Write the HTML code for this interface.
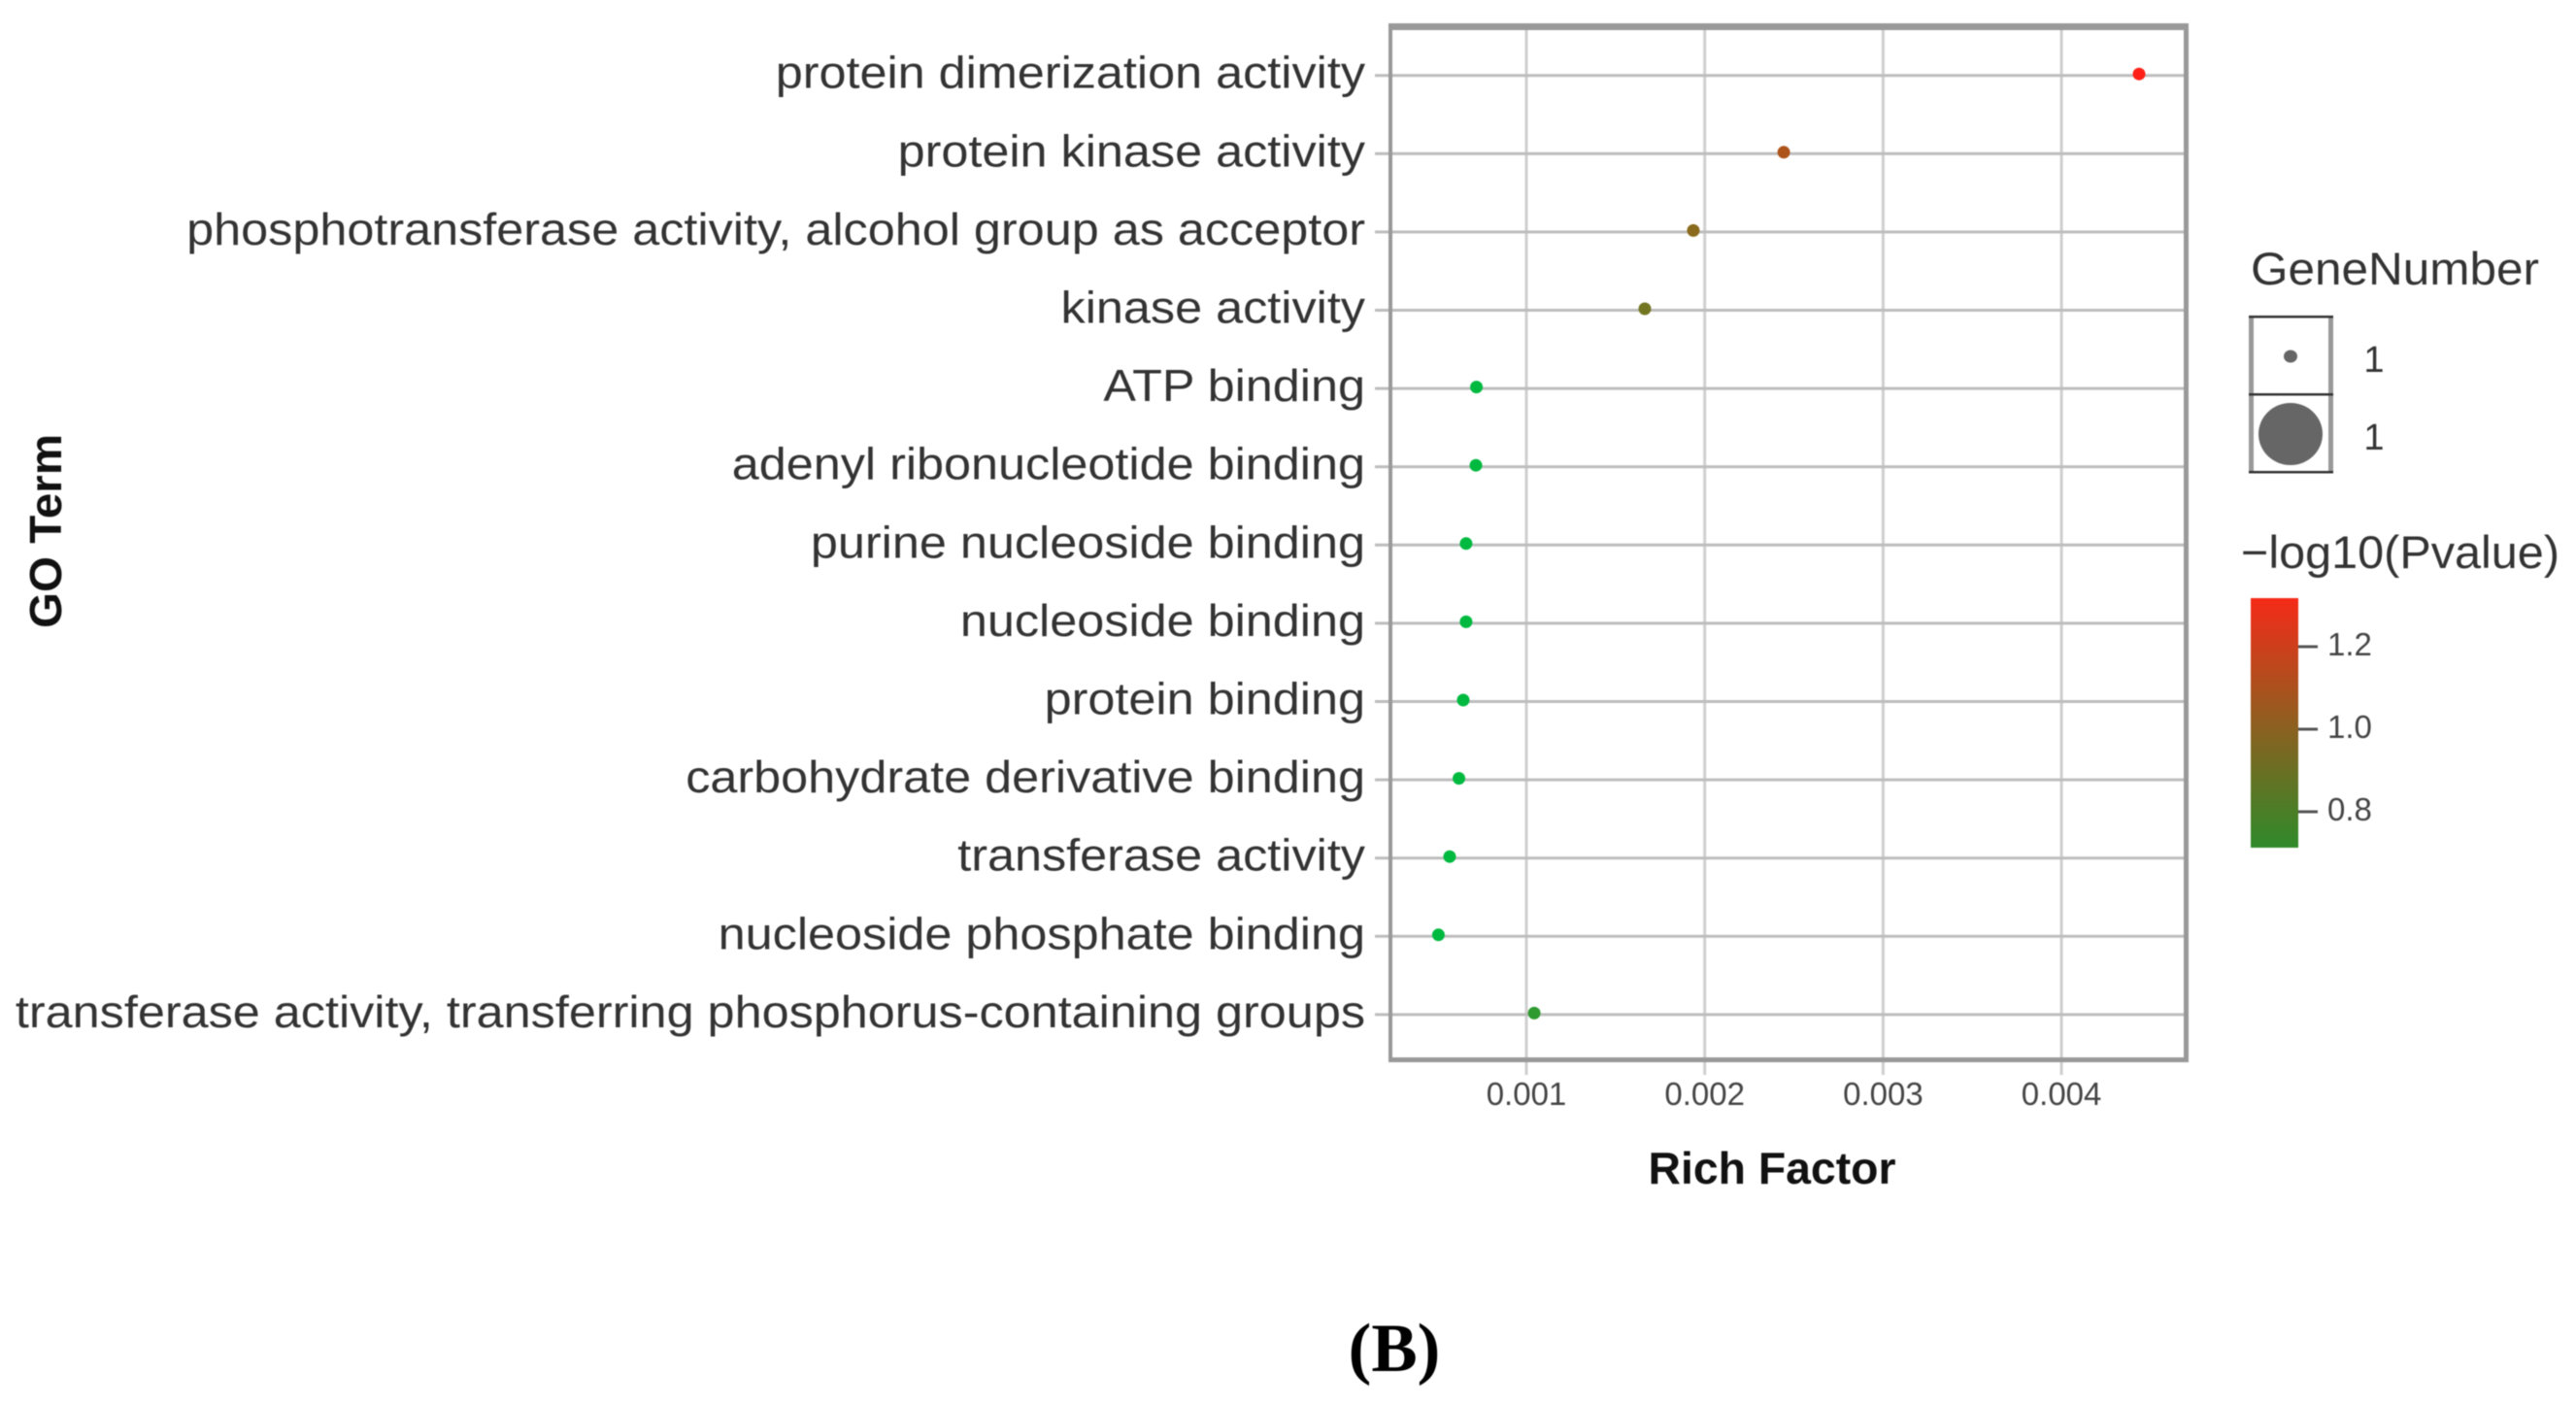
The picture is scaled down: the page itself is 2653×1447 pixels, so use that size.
<!DOCTYPE html>
<html lang="en">
<head>
<meta charset="utf-8">
<title>GO Term Rich Factor Bubble Chart</title>
<style>
html,body{margin:0;padding:0;background:#fff;width:2653px;height:1447px;overflow:hidden}
svg{display:block;filter:blur(0.6px)}
text{font-family:"Liberation Sans",sans-serif;fill:#333}
</style>
</head>
<body>
<svg id="chart" xmlns="http://www.w3.org/2000/svg" width="2653" height="1447" viewBox="0 0 2653 1447">
  <defs>
    <linearGradient id="pvalue-gradient" x1="0" y1="0" x2="0" y2="1">
      <stop offset="0" stop-color="#f52b18"/>
      <stop offset="0.5" stop-color="#8f5f20"/>
      <stop offset="1" stop-color="#2f8a2a"/>
    </linearGradient>
  </defs>
  <g id="grid"></g>
  <g id="panel">
    <rect x="1431" y="24" width="823" height="7" fill="#999"/>
    <rect x="1431" y="1089" width="823" height="5" fill="#999"/>
    <rect x="1430" y="24" width="4" height="1070" fill="#999"/>
    <rect x="2249" y="24" width="5" height="1070" fill="#999"/>
  </g>
  <g id="y-labels" transform="translate(1406,0) scale(1.095,1) translate(-1406,0)"></g>
  <g id="x-labels"></g>
  <g id="points"></g>

  <text x="1825" y="1219" text-anchor="middle" font-size="46" font-weight="700" textLength="255" lengthAdjust="spacingAndGlyphs" style="fill:#111">Rich Factor</text>
  <text transform="translate(63,647) rotate(-90)" font-size="46" font-weight="700" textLength="200" lengthAdjust="spacingAndGlyphs" style="fill:#111">GO Term</text>

  <g>
    <text x="2318" y="293" font-size="47" textLength="297" lengthAdjust="spacingAndGlyphs">GeneNumber</text>
    <rect x="2318" y="327" width="84" height="79" fill="#fff"/>
    <rect x="2318" y="406" width="84" height="80" fill="#fff"/>
    <rect x="2316" y="325" width="5" height="162" fill="#999"/>
    <rect x="2398" y="325" width="5" height="162" fill="#999"/>
    <rect x="2316" y="325" width="87" height="2.5" fill="#333"/>
    <rect x="2316" y="405" width="87" height="2.5" fill="#333"/>
    <rect x="2316" y="485" width="87" height="2.5" fill="#333"/>
    <ellipse cx="2359" cy="367" rx="7" ry="6.5" fill="#666"/>
    <ellipse cx="2359" cy="447" rx="33" ry="32" fill="#666"/>
    <text x="2445" y="383" font-size="38" text-anchor="middle">1</text>
    <text x="2445" y="463" font-size="38" text-anchor="middle">1</text>
  </g>

  <g>
    <text x="2308" y="585" font-size="47" textLength="328" lengthAdjust="spacingAndGlyphs">−log10(Pvalue)</text>
    <rect x="2318" y="616" width="49" height="257" fill="url(#pvalue-gradient)"/>
    <g id="color-ticks"></g>
  </g>

  <text x="1436" y="1412" text-anchor="middle" font-size="71" font-weight="700" style='font-family:"Liberation Serif",serif;fill:#000'>(B)</text>
</svg>

<script>
const categories = [
  "protein dimerization activity",
  "protein kinase activity",
  "phosphotransferase activity, alcohol group as acceptor",
  "kinase activity",
  "ATP binding",
  "adenyl ribonucleotide binding",
  "purine nucleoside binding",
  "nucleoside binding",
  "protein binding",
  "carbohydrate derivative binding",
  "transferase activity",
  "nucleoside phosphate binding",
  "transferase activity, transferring phosphorus-containing groups"
];
const richFactor = [0.004435, 0.002443, 0.001936, 0.001664, 0.00072, 0.000717, 0.000662, 0.000662, 0.000646, 0.000622, 0.00057, 0.000507, 0.001044];
const negLogP = [1.33, 1.10, 1.00, 0.93, 0.60, 0.60, 0.60, 0.60, 0.60, 0.60, 0.60, 0.60, 0.72];
const xTicks = [0.001, 0.002, 0.003, 0.004];
const colorTicks = [1.2, 1.0, 0.8];

const NS = "http://www.w3.org/2000/svg";

function xScale(v) { return 1572 + (v - 0.001) * 183700; }
function yScale(i) { return 77.7 + i * 80.6; }
function colorBarY(v) { return 751 - (v - 1.0) * 425; }

function mix(a, b, t) {
  const out = [];
  for (let k = 0; k < 3; k++) out.push(Math.round(a[k] + (b[k] - a[k]) * t));
  return "rgb(" + out.join(",") + ")";
}
function colorScale(v) {
  const green = [0, 185, 63], mid1 = [47, 154, 48], mid2 = [138, 106, 28], red = [255, 32, 24];
  if (v <= 0.72) return mix(green, mid1, Math.max(0, (v - 0.6) / 0.12));
  if (v <= 1.0) return mix(mid1, mid2, (v - 0.72) / 0.28);
  return mix(mid2, red, Math.min(1, (v - 1.0) / 0.33));
}
function make(tag, attrs, parent, content) {
  const el = document.createElementNS(NS, tag);
  for (const key in attrs) el.setAttribute(key, attrs[key]);
  if (content !== undefined) el.textContent = content;
  parent.appendChild(el);
  return el;
}

const gridGroup = document.getElementById("grid");
const yLabelGroup = document.getElementById("y-labels");
const xLabelGroup = document.getElementById("x-labels");
const pointGroup = document.getElementById("points");
const colorTickGroup = document.getElementById("color-ticks");

xTicks.forEach(function (tick) {
  const x = xScale(tick);
  const line = make("line", { x1: x, x2: x, y1: 27, y2: 1107, stroke: "#cfcfcf", "stroke-width": 3 }, gridGroup);
  
  
  const label = make("text", { x: x, y: 1138, "font-size": 33, "text-anchor": "middle", style: "fill:#444" }, xLabelGroup, tick.toFixed(3));
  
  
});

categories.forEach(function (name, i) {
  const y = yScale(i);
  const line = make("line", { x1: 1416, x2: 2252, y1: y, y2: y, stroke: "#bdbdbd", "stroke-width": 3 }, gridGroup);
  
  
  const label = make("text", { x: 1406, y: y + 13, "font-size": 46, "text-anchor": "end" }, yLabelGroup, name);
  
  
});

richFactor.forEach(function (value, i) {
  const point = make("circle", { cx: xScale(value), cy: yScale(i) - 1.5, r: 6.5, fill: colorScale(negLogP[i]) }, pointGroup);
  
  
});

colorTicks.forEach(function (tick) {
  const y = colorBarY(tick);
  const mark = make("line", { x1: 2367, x2: 2387, y1: y, y2: y, stroke: "#555", "stroke-width": 3 }, colorTickGroup);
  
  
  const label = make("text", { x: 2397, y: y + 9, "font-size": 33, style: "fill:#444" }, colorTickGroup, tick.toFixed(1));
  
  
});
</script>
</body>
</html>
